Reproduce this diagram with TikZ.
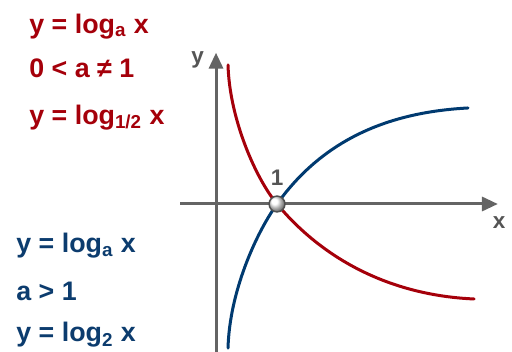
\documentclass[tikz,border=0pt]{standalone}
\usepackage{fontspec}
\setmainfont{Liberation Sans}
\usetikzlibrary{arrows.meta,positioning,shadings}
\definecolor{axisgray}{RGB}{100,100,100}
\definecolor{decred}{RGB}{165,0,10}
\definecolor{incblue}{RGB}{0,58,112}
\definecolor{txtblue}{RGB}{12,60,110}
\tikzset{
  axis/.style={line width=1.4pt,axisgray,-{Triangle[length=2.6mm,width=2.3mm]}},
  curve/.style={line width=1.4pt,line cap=round},
  lbl/.style={font=\fontsize{12.5}{14}\selectfont\bfseries,inner sep=0pt,anchor=base west},
  axlbl/.style={font=\fontsize{10.5}{12}\selectfont\bfseries,text=axisgray!85!black,inner sep=0pt},
  knot/.style={circle,draw=axisgray!80!black,line width=0.7pt,ball color=white,
    minimum size=2.6mm,inner sep=0pt},
}
\begin{document}
\begin{tikzpicture}
\useasboundingbox (-3.541,-2.426) rectangle (4.852,3.344);
% axes
\coordinate (xl) at (-0.59,0); \coordinate (xr) at (4.62,0);
\coordinate (yb) at (0,-2.43); \coordinate (yt) at (0,2.48);
\draw[axis] (xl) -- (xr);
\draw[axis] (yb) -- (yt);
\node[axlbl] (ylab) at (-0.30,2.36) {y};
\node[axlbl] (xlab) at (4.64,-0.30) {x};
% curves
\coordinate (c1) at (1,0);
\coordinate (rtop) at (0.197,2.279); \coordinate (rend) at (4.230,-1.557);
\coordinate (bbot) at (0.197,-2.361); \coordinate (bend) at (4.131,1.574);
\draw[curve,decred] (rtop) .. controls (0.22,1.40) and (0.65,0.42) .. (c1)
  .. controls (1.8,-0.96) and (2.93,-1.50) .. (rend);
\draw[curve,incblue] (bbot) .. controls (0.22,-1.45) and (0.65,-0.49) .. (c1)
  .. controls (1.8,1.12) and (2.93,1.51) .. (bend);
\node[knot] (one) at (c1) {};
\node[axlbl,above=1.5mm of one] (onelab) {1};
% formulas
\node[lbl,text=decred] (r1) at (-3.066,2.803) {y = log\textsubscript{a} x};
\node[lbl,text=decred] (r2) at (-3.066,2.066) {0 < a ≠ 1};
\node[lbl,text=decred] (r3) at (-3.066,1.311) {y = log\textsubscript{1/2} x};
\node[lbl,text=txtblue] (b1) at (-3.279,-0.803) {y = log\textsubscript{a} x};
\node[lbl,text=txtblue] (b2) at (-3.279,-1.590) {a > 1};
\node[lbl,text=txtblue] (b3) at (-3.279,-2.262) {y = log\textsubscript{2} x};
\end{tikzpicture}
\end{document}
